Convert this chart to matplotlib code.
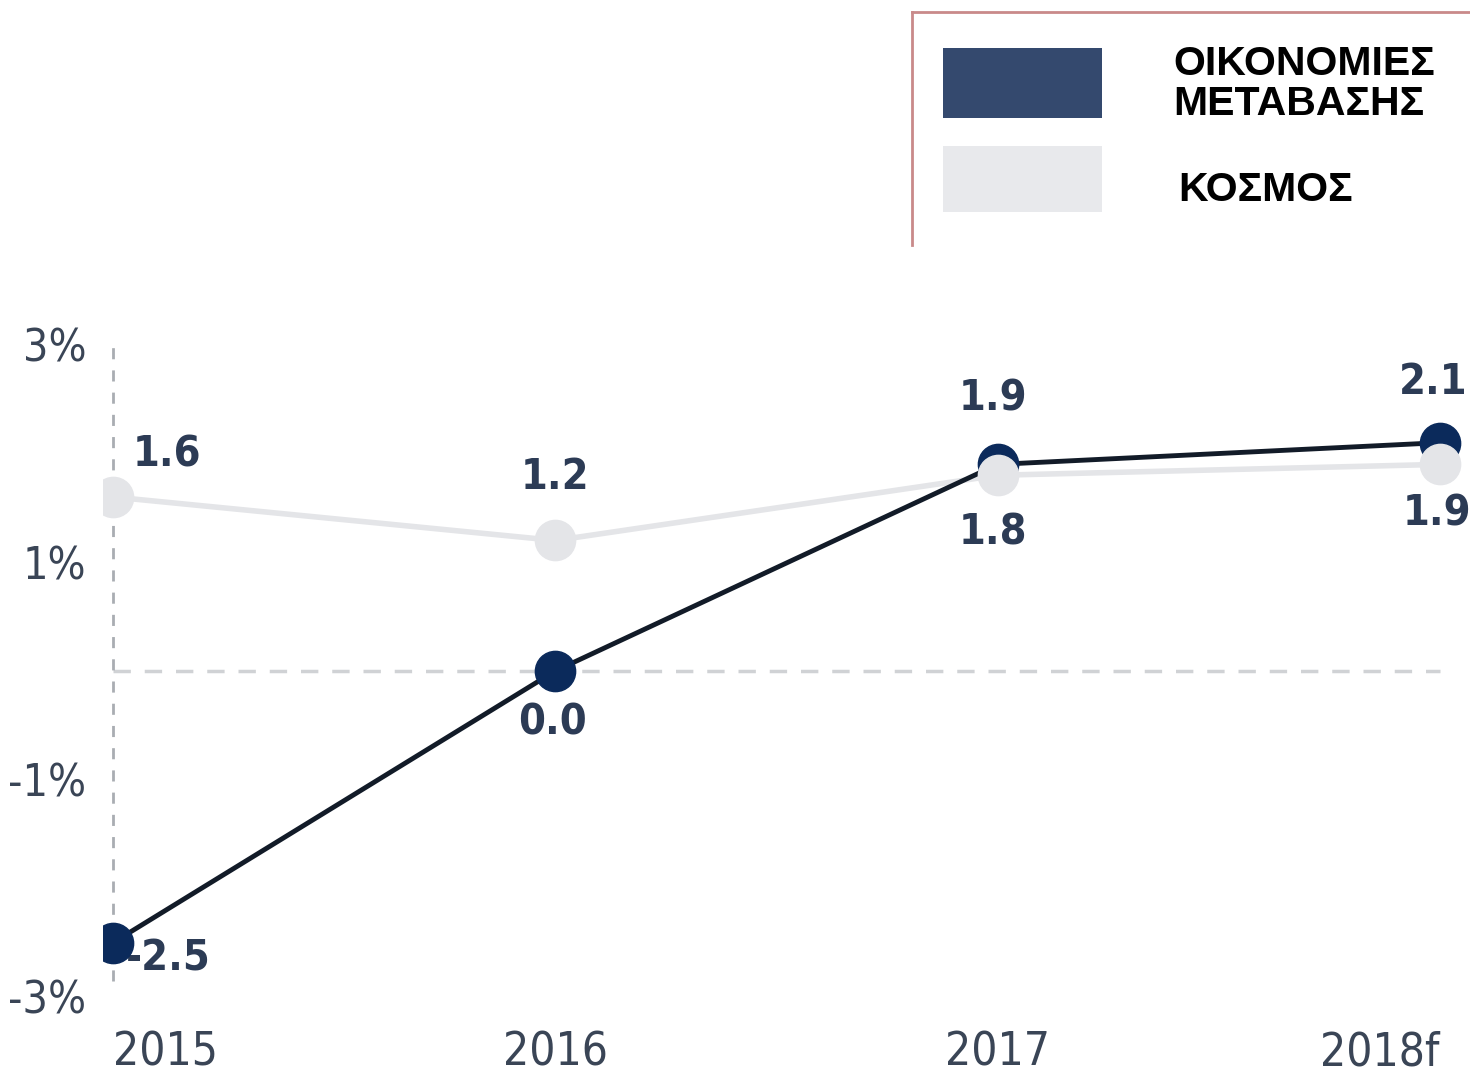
import matplotlib
matplotlib.use('Agg')
import matplotlib.pyplot as plt
from matplotlib.patches import Rectangle
from matplotlib.lines import Line2D

# δεδομένα
years = ['2015', '2016', '2017', '2018f']
transition = [-2.5, 0.0, 1.9, 2.1]
world = [1.6, 1.2, 1.8, 1.9]
ytick_vals = [3, 1, -1, -3]
ytick_labels = ['3%', '1%', '-1%', '-3%']
legend_labels = ['ΟΙΚΟΝΟΜΙΕΣ\nΜΕΤΑΒΑΣΗΣ', 'ΚΟΣΜΟΣ']

# θέσεις ετικετών τιμών (offset σε pixels)
trans_off = [(55, -16), (-3, -52), (-5, 66), (-7, 61)]
world_off = [(54, 42), (0, 63), (-5, -57), (-3, -49)]

narrow = ['DejaVu Sans']
dark_line = '#121b28'
dark_mark = '#0b2a5b'
light = '#e4e5e8'
lab_col = '#2c3b55'
tick_col = '#3a4556'

W, H = 1470, 1078
fig = plt.figure(figsize=(W / 100, H / 100), dpi=100)

# άξονες: x=0 στο px 113, x=3 στο px 1440, y=0 στο px 675 (110 px ανά μονάδα)
x0 = 103
x1 = 1465
y_top = 330
y_bot = 997
ax = fig.add_axes([x0 / W, 1 - y_bot / H, (x1 - x0) / W, (y_bot - y_top) / H])
ax.set_xlim(-10 / 442.3, 3 + 25 / 442.3)
ax.set_ylim((675 - y_bot) / 110, (675 - y_top) / 110)

xs = list(range(len(years)))

# βοηθητικές διακεκομμένες
ax.plot([0, 3], [0, 0], color='#d0d2d5', lw=2.5, ls=(0, (5, 4)), zorder=1)
ax.plot([0, 0], [-2.85, 3.05], color='#a9adb2', lw=2, ls=(0, (4, 4)), zorder=1)

ax.plot(xs, world, color=light, lw=4, zorder=2)
ax.plot(xs, transition, color=dark_line, lw=3.5, zorder=3)
ax.plot(xs, transition, ls='none', marker='o', ms=29, color=dark_mark, zorder=4)
ax.plot(xs, world, ls='none', marker='o', ms=29, color=light, zorder=5)

for i in xs:
    ax.annotate(f'{transition[i]:.1f}', (xs[i], transition[i]), xytext=trans_off[i],
                textcoords='offset pixels', ha='center', va='center',
                fontsize=31, fontweight='bold', color=lab_col, family=narrow,
                fontstretch='condensed', annotation_clip=False)
    ax.annotate(f'{world[i]:.1f}', (xs[i], world[i]), xytext=world_off[i],
                textcoords='offset pixels', ha='center', va='center',
                fontsize=31, fontweight='bold', color=lab_col, family=narrow,
                fontstretch='condensed', annotation_clip=False)

ax.set_xticks(xs)
ax.set_xticklabels(years, family=narrow, fontsize=33, color=tick_col, fontstretch='condensed')
ax.set_yticks(ytick_vals)
ax.set_yticklabels(ytick_labels, family=narrow, fontsize=32, color=tick_col, fontstretch='condensed')
ax.tick_params(axis='x', length=0, pad=24)
ax.tick_params(axis='y', length=0, pad=12)
lbls = ax.get_xticklabels()
lbls[0].set_horizontalalignment('left')
lbls[-1].set_horizontalalignment('right')
for s in ax.spines.values():
    s.set_visible(False)

# υπόμνημα
border = '#c98a8a'
fig.add_artist(Line2D([912 / W, 912 / W], [1 - 245 / H, 1 - 12 / H], color=border, lw=2))
fig.add_artist(Line2D([912 / W, 1], [1 - 12 / H, 1 - 12 / H], color=border, lw=2))
fig.add_artist(Rectangle((943 / W, 1 - 118 / H), 159 / W, 70 / H, color='#34496e', lw=0))
fig.add_artist(Rectangle((943 / W, 1 - 212 / H), 159 / W, 66 / H, color='#e8e9ec', lw=0))
fig.text(1173 / W, 1 - 84 / H, legend_labels[0], ha='left', va='center', fontsize=29.5,
         fontweight='bold', family='Liberation Sans', color='black', linespacing=1.08)
fig.text(1178 / W, 1 - 190 / H, legend_labels[1], ha='left', va='center', fontsize=29.5,
         fontweight='bold', family='Liberation Sans', color='black')

fig.savefig('out.png', dpi=100)
